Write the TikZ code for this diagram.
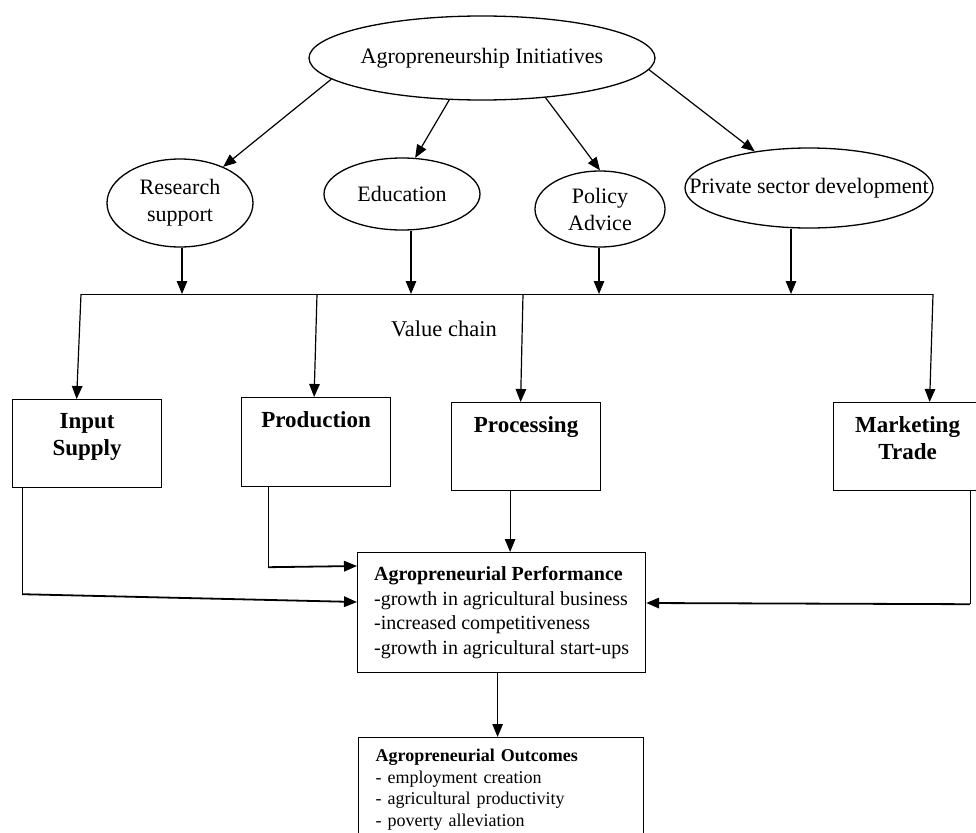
\documentclass[tikz,border=0pt]{standalone}
\usepackage{fontspec}
\setmainfont{Liberation Serif}
\usetikzlibrary{arrows.meta, positioning, shapes.geometric, calc}
\tikzset{
  oval/.style={draw, ellipse, line width=1.3pt, inner sep=0pt, align=center, font=\fontsize{22}{27}\selectfont},
  vcbox/.style={draw, rectangle, line width=1.2pt, anchor=north west, inner sep=0pt},
  vclabel/.style={anchor=north, yshift=-14pt, inner sep=0pt, align=center, font=\fontsize{23}{27}\selectfont\bfseries},
  arr/.style={line width=1.2pt, -{Triangle[length=13pt, width=10.5pt]}},
  conn/.style={line width=0.9pt},
}

\begin{document}
\begin{tikzpicture}[x=1pt, y=-1pt]
    \useasboundingbox (0,0) rectangle (976,832);
    \clip (0,0) rectangle (976,832);

    % initiatives
    \node[oval, minimum width=346pt, minimum height=84pt] (init) at (482,58) {\makebox[0pt]{Agropreneurship Initiatives}};
    \node[oval, minimum width=146pt, minimum height=88pt] (research) at (180,203) {Research\\support};
    \node[oval, minimum width=156pt, minimum height=72pt] (edu) at (402,194) {Education};
    \node[oval, minimum width=130pt, minimum height=76pt] (policy) at (600,209) {Policy\\Advice};
    \node[oval, minimum width=248pt, minimum height=80pt] (private) at (809,188) {\makebox[0pt]{Private sector development}};

    \draw[arr] (init.188) -- (research.40);
    \draw[arr] (init.232) -- (edu.70);
    \draw[arr] (init.328) -- (policy.north);
    \draw[arr] (init.356) -- (private.146);

    % value chain line
    \coordinate (vcL) at (81,294);
    \coordinate (vcR) at (933,294);
    \draw[conn] (vcL) -- (vcR);
    \node[font=\fontsize{22.5}{27}\selectfont] (vctext) at (444,329) {Value chain};

    \draw[arr] (research.south -| 182,294) -- (182,294);
    \draw[arr] (edu.south -| 411,294) -- (411,294);
    \draw[arr] (policy.south -| 599,294) -- (599,294);
    \draw[arr] (private.south -| 791,294) -- (791,294);

    % value chain stages
    \node[vcbox, minimum width=149pt, minimum height=88pt, label={[vclabel]north:{Input\\Supply}}] (input) at (12,399) {};
    \node[vcbox, minimum width=149pt, minimum height=89pt, label={[vclabel]north:Production}] (prod) at (241,397) {};
    \node[vcbox, minimum width=149pt, minimum height=88pt, label={[vclabel]north:Processing}] (proc) at (451,402) {};
    \node[vcbox, minimum width=148pt, minimum height=88pt, label={[vclabel]north:{Marketing\\Trade}}] (mkt) at (833,402) {};

    \coordinate (k2) at (317,294);
    \coordinate (k3) at (523,294);
    \draw[arr] (vcL) -- ([xshift=-10.5pt]input.north);
    \draw[arr] (k2) -- ([xshift=-2pt]prod.north);
    \draw[arr] (k3) -- ([xshift=-5.5pt]proc.north);
    \draw[arr] (vcR) -- ([xshift=22pt]mkt.north);

    % performance and outcomes
    \node[vcbox, align=left, minimum width=288pt, minimum height=120pt, font=\fontsize{20}{24.5}\selectfont] (perf) at (357,552)
        {\textbf{Agropreneurial Performance}\\-growth in agricultural business\\-increased competitiveness\\-growth in agricultural start-ups};
    \node[vcbox, align=left, text width=251pt, inner xsep=17pt, inner ysep=11.7pt, font=\fontsize{18}{21.5}\selectfont] (outc) at (358,737)
        {\textbf{Agropreneurial Outcomes}\\- employment creation\\- agricultural productivity\\- poverty alleviation};

    \draw[conn] ([xshift=10pt]input.south west) -- ++(0,106) coordinate (inbend);
    \draw[arr, line width=1.8pt] (inbend) -- ([yshift=-50pt]perf.north west);
    \draw[conn] ([xshift=27pt]prod.south west) -- ++(0,80) coordinate (prodbend);
    \draw[arr, line width=1.8pt] (prodbend) -- ([yshift=-14pt]perf.north west);
    \draw[arr] ([xshift=-16pt]proc.south) -- ([xshift=-16pt]proc.south |- perf.north);
    \draw[conn] ([xshift=137pt]mkt.south west) -- ++(0,113) coordinate (mktbend);
    \draw[arr, line width=1.8pt] (mktbend) -- ([yshift=-51pt]perf.north east);
    \draw[arr] ([xshift=-4pt]perf.south) -- ([xshift=-4pt]perf.south |- outc.north);
\end{tikzpicture}
\end{document}
